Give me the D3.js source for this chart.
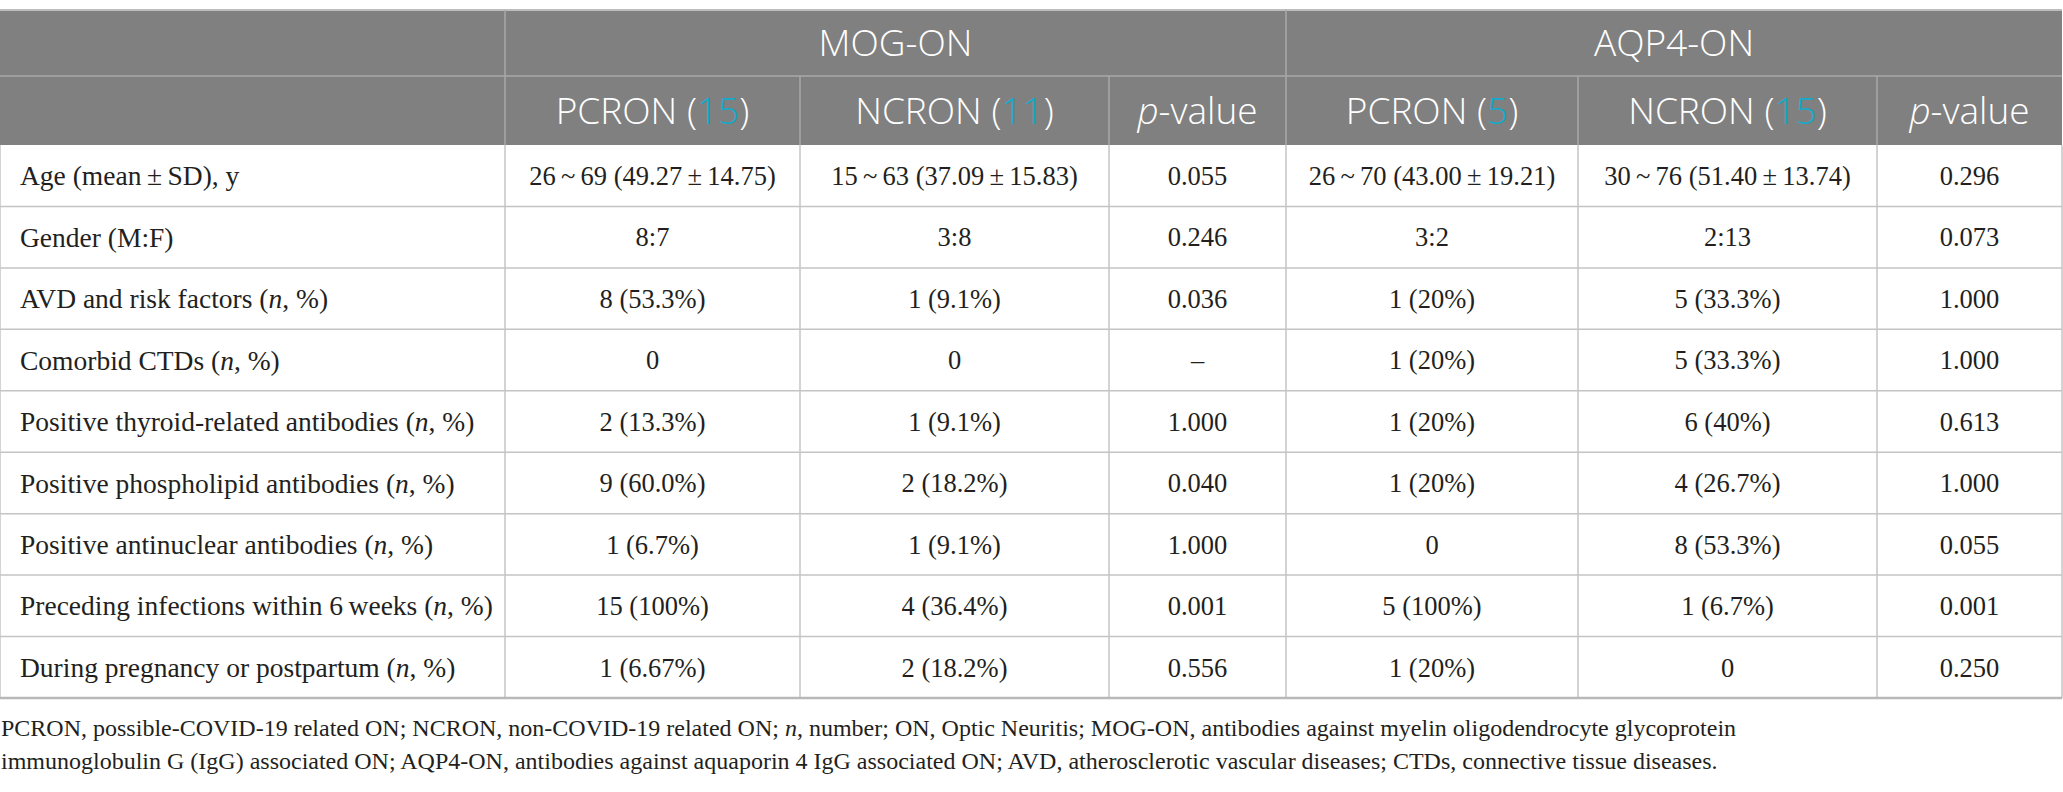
<!DOCTYPE html>
<html>
<head>
<meta charset="utf-8">
<script src="https://cdn.jsdelivr.net/npm/d3@7"></script>
<style>
  body { margin: 0; background: #fff; }
  svg { display: block; }
  .hd { font-family: "Open Sans", "Lato", sans-serif; font-weight: 300; fill: #fff; }
  .bd { font-family: "Liberation Serif", "DejaVu Serif", serif; fill: #231f20; }
</style>
</head>
<body>
<svg id="chart" width="2063" height="792"></svg>
<script>
// table content
var groups = ["MOG-ON", "AQP4-ON"];
var subHeads = ["PCRON", "NCRON", "p-value", "PCRON", "NCRON", "p-value"];
var subCounts = [15, 11, null, 5, 15, null];

var rowLabels = [
  "Age (mean\u2009\u00b1\u2009SD), y",
  "Gender (M:F)",
  "AVD and risk factors (*n*, %)",
  "Comorbid CTDs (*n*, %)",
  "Positive thyroid-related antibodies (*n*, %)",
  "Positive phospholipid antibodies (*n*, %)",
  "Positive antinuclear antibodies (*n*, %)",
  "Preceding infections within 6\u2009weeks (*n*, %)",
  "During pregnancy or postpartum (*n*, %)"
];
var mogPcron = ["26\u2009~\u200969 (49.27\u2009\u00b1\u200914.75)", "8:7", "8 (53.3%)", "0", "2 (13.3%)", "9 (60.0%)", "1 (6.7%)", "15 (100%)", "1 (6.67%)"];
var mogNcron = ["15\u2009~\u200963 (37.09\u2009\u00b1\u200915.83)", "3:8", "1 (9.1%)", "0", "1 (9.1%)", "2 (18.2%)", "1 (9.1%)", "4 (36.4%)", "2 (18.2%)"];
var mogP = ["0.055", "0.246", "0.036", "\u2013", "1.000", "0.040", "1.000", "0.001", "0.556"];
var aqpPcron = ["26\u2009~\u200970 (43.00\u2009\u00b1\u200919.21)", "3:2", "1 (20%)", "1 (20%)", "1 (20%)", "1 (20%)", "0", "5 (100%)", "1 (20%)"];
var aqpNcron = ["30\u2009~\u200976 (51.40\u2009\u00b1\u200913.74)", "2:13", "5 (33.3%)", "5 (33.3%)", "6 (40%)", "4 (26.7%)", "8 (53.3%)", "1 (6.7%)", "0"];
var aqpP = ["0.296", "0.073", "1.000", "1.000", "0.613", "1.000", "0.055", "0.001", "0.250"];

var footLines = [
  "PCRON, possible-COVID-19 related ON; NCRON, non-COVID-19 related ON; *n*, number; ON, Optic Neuritis; MOG-ON, antibodies against myelin oligodendrocyte glycoprotein",
  "immunoglobulin G (IgG) associated ON; AQP4-ON, antibodies against aquaporin 4 IgG associated ON; AVD, atherosclerotic vascular diseases; CTDs, connective tissue diseases."
];

var columns = [rowLabels, mogPcron, mogNcron, mogP, aqpPcron, aqpNcron, aqpP];

// layout
var colEdges = [0, 505, 800, 1109, 1286, 1578, 1877, 2062],
    tableTop = 10, head1 = 76, head2 = 145, tableBottom = 698,
    headBg = "#808080", teal = "#12abcb";

var svg = d3.select("#chart");

var y = d3.scaleBand()
    .domain(d3.range(rowLabels.length))
    .range([head2, tableBottom]);

function addRich(sel, str) {
  // *x* marks italic parts
  str.split("*").forEach(function (part, i) {
    if (!part) return;
    sel.append("tspan")
      .style("font-style", i % 2 ? "italic" : "normal")
      .text(part);
  });
}

// header background
svg.append("rect")
    .attr("x", 0).attr("y", tableTop)
    .attr("width", colEdges[7]).attr("height", head2 - tableTop)
    .attr("fill", headBg);

// header lines
var hl = svg.append("g").attr("stroke", "#a9a9a9").attr("stroke-width", 1.5);
hl.append("line").attr("x1", 0).attr("x2", colEdges[7]).attr("y1", tableTop).attr("y2", tableTop)
    .attr("stroke", "#bdbdbd").attr("stroke-width", 2);
hl.append("line").attr("x1", 0).attr("x2", colEdges[7]).attr("y1", head1).attr("y2", head1);
[colEdges[1], colEdges[4]].forEach(function (x) {
  hl.append("line").attr("x1", x).attr("x2", x).attr("y1", tableTop).attr("y2", head2);
});
[colEdges[2], colEdges[3], colEdges[5], colEdges[6]].forEach(function (x) {
  hl.append("line").attr("x1", x).attr("x2", x).attr("y1", head1).attr("y2", head2);
});

// group headings
groups.forEach(function (g, i) {
  var x0 = colEdges[1 + i * 3], x1 = colEdges[4 + i * 3];
  svg.append("text")
      .attr("class", "hd")
      .attr("x", (x0 + x1) / 2)
      .attr("y", (tableTop + head1) / 2)
      .attr("dy", "0.36em")
      .attr("text-anchor", "middle")
      .style("font-size", "37px")
      .text(g);
});

// sub headings
subHeads.forEach(function (s, i) {
  var t = svg.append("text")
      .attr("class", "hd")
      .attr("x", (colEdges[i + 1] + colEdges[i + 2]) / 2)
      .attr("y", (head1 + head2) / 2)
      .attr("dy", "0.36em")
      .attr("text-anchor", "middle")
      .style("font-size", "37px");
  if (subCounts[i] == null) {
    t.append("tspan").style("font-style", "italic").text("p");
    t.append("tspan").text("-value");
  } else {
    t.append("tspan").text(s + " (");
    t.append("tspan").attr("fill", teal).text(subCounts[i]);
    t.append("tspan").text(")");
  }
});

// body grid
var bl = svg.append("g").attr("stroke", "#c4c4c4").attr("stroke-width", 1.5);
y.domain().forEach(function (r) {
  bl.append("line").attr("x1", 0).attr("x2", colEdges[7])
    .attr("y1", y(r) + y.bandwidth()).attr("y2", y(r) + y.bandwidth());
});
colEdges.forEach(function (x) {
  bl.append("line").attr("x1", x).attr("x2", x).attr("y1", head2).attr("y2", tableBottom);
});
svg.append("line").attr("x1", 0).attr("x2", colEdges[7])
    .attr("y1", tableBottom).attr("y2", tableBottom)
    .attr("stroke", "#b8b8b8").attr("stroke-width", 2.5);

// cells
columns.forEach(function (col, c) {
  svg.append("g").selectAll("text")
    .data(col)
    .join("text")
      .attr("class", "bd")
      .attr("x", c === 0 ? 20 : (colEdges[c] + colEdges[c + 1]) / 2)
      .attr("y", function (d, r) { return y(r) + y.bandwidth() / 2; })
      .attr("dy", "0.35em")
      .attr("text-anchor", c === 0 ? "start" : "middle")
      .style("font-size", c === 0 ? "27.5px" : "26.5px")
      .each(function (d) { addRich(d3.select(this), d); });
});

// footnote
footLines.forEach(function (line, i) {
  var t = svg.append("text")
      .attr("class", "bd")
      .attr("x", 1)
      .attr("y", 728 + i * 33)
      .attr("dy", "0.35em")
      .style("font-size", "24px");
  addRich(t, line);
});
</script>
</body>
</html>
